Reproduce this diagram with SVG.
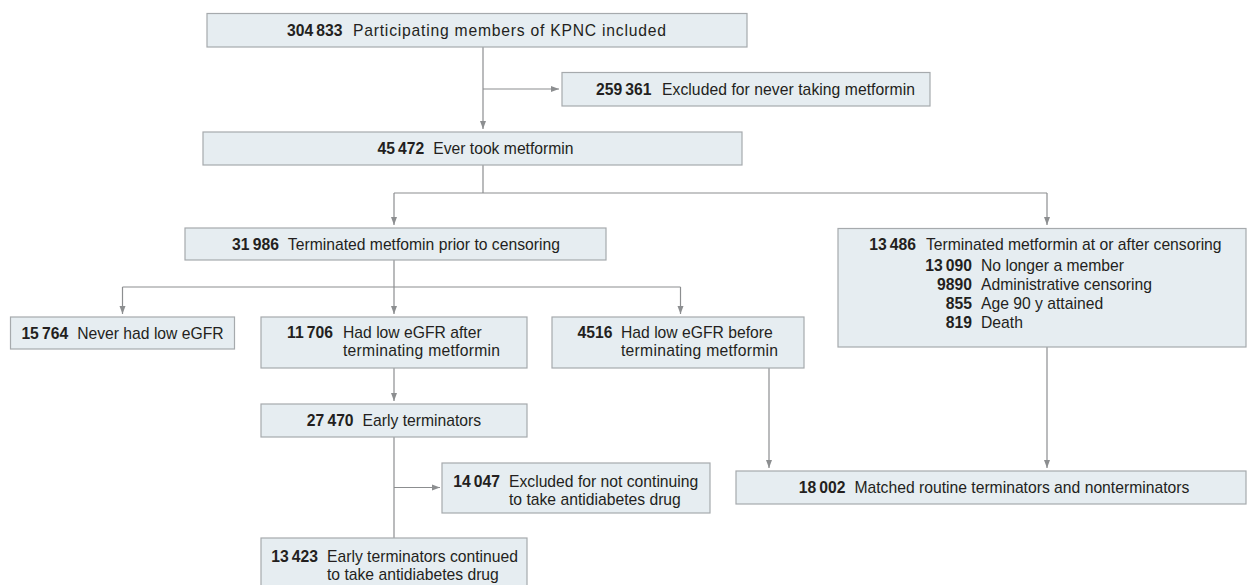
<svg xmlns="http://www.w3.org/2000/svg" width="1248" height="585" viewBox="0 0 1248 585">
<style>
.box{fill:#e6edf1;stroke:#a6aaad;stroke-width:1.2}
.ln{fill:none;stroke:#8c8e90;stroke-width:1.2}
.ar{marker-end:url(#ah)}
text{font-family:"Liberation Sans",Arial,sans-serif;font-size:15.7px;fill:#231f20}
.b{font-weight:bold}
.m{text-anchor:middle}
.e{text-anchor:end}
</style>
<defs>
<marker id="ah" markerUnits="userSpaceOnUse" markerWidth="8" markerHeight="8" viewBox="0 0 8 8" refX="8" refY="4" orient="auto">
<path d="M0,1 L8,4 L0,7 z" fill="#8c8e90"/>
</marker>
</defs>
<rect width="1248" height="585" fill="#ffffff"/>
<g id="connectors">
<path class="ln ar" d="M483,47 V129"/>
<path class="ln ar" d="M483,89 H559"/>
<path class="ln" d="M483,165 V193 M394,193 H1047"/>
<path class="ln ar" d="M394,193 V225"/>
<path class="ln ar" d="M1047,193 V225"/>
<path class="ln" d="M394,260 V287 M122.5,287 H680.5"/>
<path class="ln ar" d="M122.5,287 V314"/>
<path class="ln ar" d="M394,287 V314"/>
<path class="ln ar" d="M680.5,287 V314"/>
<path class="ln ar" d="M394,368 V401"/>
<path class="ln" d="M394,437 V538"/>
<path class="ln ar" d="M394,487.5 H440"/>
<path class="ln ar" d="M769,368 V468"/>
<path class="ln ar" d="M1047,347 V468"/>
</g>
<g id="n1">
<rect class="box" x="207" y="13.5" width="540" height="33.5"/>
<text class="b" x="287" y="36">304&#8201;833</text>
<text x="353" y="36" textLength="313" lengthAdjust="spacing">Participating members of KPNC included</text>
</g>
<g id="n2">
<rect class="box" x="562" y="72.5" width="368" height="33.5"/>
<text class="b" x="596" y="95">259&#8201;361</text>
<text x="662" y="95" textLength="253" lengthAdjust="spacing">Excluded for never taking metformin</text>
</g>
<g id="n3">
<rect class="box" x="203" y="132" width="539" height="33"/>
<text class="m" x="475.5" y="154"><tspan class="b">45&#8201;472</tspan><tspan dx="9">Ever took metformin</tspan></text>
</g>
<g id="n4">
<rect class="box" x="185" y="228" width="421" height="32"/>
<text class="m" x="396" y="249.5"><tspan class="b">31&#8201;986</tspan><tspan dx="9">Terminated metfomin prior to censoring</tspan></text>
</g>
<g id="n5">
<rect class="box" x="838" y="228.5" width="408" height="118.5"/>
<text class="b e" x="916" y="250">13&#8201;486</text>
<text x="926" y="250">Terminated metformin at or after censoring</text>
<text class="b e" x="972" y="270.5">13&#8201;090</text>
<text x="981" y="270.5">No longer a member</text>
<text class="b e" x="972" y="289.5">9890</text>
<text x="981" y="289.5">Administrative censoring</text>
<text class="b e" x="972" y="308.5">855</text>
<text x="981" y="308.5">Age 90 y attained</text>
<text class="b e" x="972" y="327.5">819</text>
<text x="981" y="327.5">Death</text>
</g>
<g id="n6">
<rect class="box" x="10.5" y="317" width="224" height="32"/>
<text class="m" x="122.5" y="338.5"><tspan class="b">15&#8201;764</tspan><tspan dx="9">Never had low eGFR</tspan></text>
</g>
<g id="n7">
<rect class="box" x="261" y="317" width="266" height="51"/>
<text class="b e" x="333" y="337.5">11&#8201;706</text>
<text x="343" y="337.5">Had low eGFR after</text>
<text x="343" y="356" textLength="157" lengthAdjust="spacing">terminating metformin</text>
</g>
<g id="n8">
<rect class="box" x="552" y="317" width="252" height="51"/>
<text class="b e" x="612.5" y="337.5">4516</text>
<text x="621" y="337.5">Had low eGFR before</text>
<text x="621" y="356" textLength="157" lengthAdjust="spacing">terminating metformin</text>
</g>
<g id="n9">
<rect class="box" x="261" y="404" width="266" height="33"/>
<text class="m" x="394" y="426"><tspan class="b">27&#8201;470</tspan><tspan dx="9">Early terminators</tspan></text>
</g>
<g id="n10">
<rect class="box" x="442" y="463" width="268" height="50"/>
<text class="b e" x="500" y="486.5">14&#8201;047</text>
<text x="509" y="486.5">Excluded for not continuing</text>
<text x="509" y="504.5">to take antidiabetes drug</text>
</g>
<g id="n11">
<rect class="box" x="261" y="538" width="266" height="60"/>
<text class="b e" x="318" y="562">13&#8201;423</text>
<text x="327" y="562">Early terminators continued</text>
<text x="327" y="580">to take antidiabetes drug</text>
</g>
<g id="n12">
<rect class="box" x="736" y="471" width="510" height="33"/>
<text class="m" x="994" y="493"><tspan class="b">18&#8201;002</tspan><tspan dx="9">Matched routine terminators and nonterminators</tspan></text>
</g>
</svg>
